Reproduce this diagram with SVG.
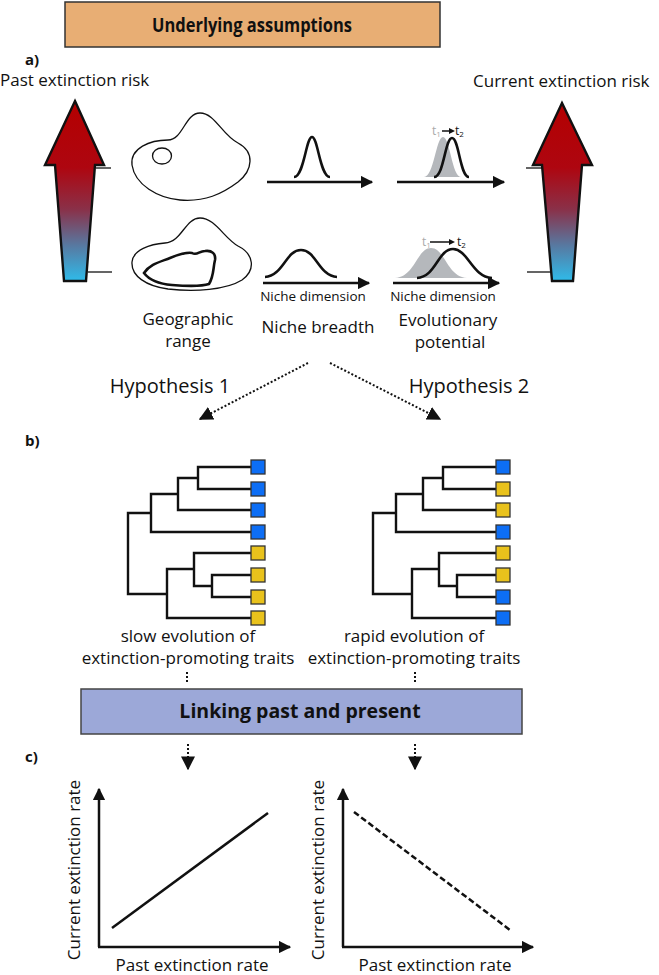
<svg xmlns="http://www.w3.org/2000/svg" width="659" height="975" viewBox="0 0 659 975">
<style>
text{font-family:"Open Sans","Noto Sans","DejaVu Sans",sans-serif;fill:#111}
.lbl{font-size:17px;text-anchor:middle}
.sm{font-size:13.5px;text-anchor:middle}
.bold{font-weight:bold}
.thin{fill:none;stroke:#111;stroke-width:1.3}
.thick{fill:none;stroke:#111;stroke-width:2.6}
.axis{fill:none;stroke:#111;stroke-width:2.5}
.br{fill:none;stroke:#111;stroke-width:2.4;stroke-linecap:square}
.dot{fill:none;stroke:#111;stroke-width:2;stroke-dasharray:2 2}
.b{fill:#0D6EF5;stroke:#333;stroke-width:1.3}
.y{fill:#E9C21C;stroke:#333;stroke-width:1.3}
.gray{fill:#B5B8BC}
</style>
<defs>
<linearGradient id="grad" gradientUnits="userSpaceOnUse" x1="0" y1="101" x2="0" y2="281">
<stop offset="0" stop-color="#B40000"/>
<stop offset="0.37" stop-color="#AE0610"/>
<stop offset="0.6" stop-color="#8A3048"/>
<stop offset="0.8" stop-color="#5878A0"/>
<stop offset="1" stop-color="#2FBBEA"/>
</linearGradient>
<marker id="ah" viewBox="0 0 10 10" refX="9" refY="5" markerWidth="5" markerHeight="5" orient="auto" markerUnits="strokeWidth">
<path d="M0,0 L10,5 L0,10 Z" fill="#111"/>
</marker>
<marker id="dh" viewBox="0 0 10 10" refX="9" refY="5" markerWidth="7" markerHeight="7" orient="auto" markerUnits="strokeWidth">
<path d="M0,0 L10,5 L0,10 Z" fill="#111"/>
</marker>
</defs>

<g id="banner-top">
<rect x="65" y="2" width="375" height="45" fill="#E8AE74" stroke="#333" stroke-width="1.5"/>
<text x="252" y="32" class="bold" font-size="19.5" text-anchor="middle" textLength="200" lengthAdjust="spacingAndGlyphs">Underlying assumptions</text>
</g>

<g id="label-a"><text x="25" y="65" class="bold" font-size="15">a)</text></g>
<g id="label-b"><text x="25" y="446" class="bold" font-size="15">b)</text></g>
<g id="label-c"><text x="25" y="762" class="bold" font-size="15">c)</text></g>

<g id="past-risk">
<text x="0" y="86" font-size="17">Past extinction risk</text>
<path d="M75,101 L104,165 L95,165 L86,281 L64,281 L55,165 L45,165 Z" fill="url(#grad)" stroke="#111" stroke-width="2.4" stroke-linejoin="miter"/>
<line x1="96" y1="168" x2="111" y2="168" stroke="#111" stroke-width="1.3"/>
<line x1="88" y1="272" x2="112" y2="272" stroke="#111" stroke-width="1.3"/>
</g>

<g id="current-risk">
<text x="473" y="87" font-size="17">Current extinction risk</text>
<path d="M562,103 L592,165 L582,165 L573,281 L552,281 L542,165 L533,165 Z" fill="url(#grad)" stroke="#111" stroke-width="2.4"/>
<line x1="526" y1="168" x2="542" y2="168" stroke="#111" stroke-width="1.3"/>
<line x1="527" y1="272" x2="552" y2="272" stroke="#111" stroke-width="1.3"/>
</g>

<g id="geographic-range">
<path class="thin" d="M200,113 C215,113 222,135 238,143 C255,152 253,170 238,182 C222,194 205,202 180,200 C158,198 135,185 132,165 C130,148 150,140 168,140 C183,140 185,113 200,113 Z"/>
<ellipse cx="162" cy="156" rx="9.5" ry="8" class="thin"/>
<path class="thin" d="M200,218 C215,218 224,238 238,246 C254,254 256,270 242,280 C226,290 195,292 168,289 C146,286 131,276 132,262 C133,250 150,244 165,243 C182,242 185,218 200,218 Z"/>
<path class="thick" d="M144,273 C150,264 160,262 170,258 C180,254 186,252 192,253 C197,256 199,251 205,251 C212,250 216,254 215,260 C213,268 214,276 209,284 C200,287 185,286 172,285 C160,284 150,281 144,273 Z"/>
<text x="188" y="325" class="lbl">Geographic</text>
<text x="188" y="347" class="lbl">range</text>
</g>

<g id="niche-breadth">
<path class="thick" d="M294,177 C304,177 306,137 312,137 C318,137 320,177 330,177"/>
<line x1="267" y1="182" x2="372" y2="182" class="axis" marker-end="url(#ah)"/>
<path class="thick" d="M265,277 C283,276 286,250 301,250 C316,250 319,276 337,277"/>
<line x1="263" y1="283" x2="369" y2="283" class="axis" marker-end="url(#ah)"/>
<text x="313" y="301" class="sm">Niche dimension</text>
<text x="318" y="333" class="lbl">Niche breadth</text>
</g>

<g id="evolutionary-potential">
<path class="gray" d="M424,177 C434,177 436,137 443,137 C450,137 452,177 461,177 Z"/>
<path class="thick" d="M434,177 C444,177 445,138 452,138 C459,138 460,177 469,177"/>
<line x1="397" y1="182" x2="504" y2="182" class="axis" marker-end="url(#ah)"/>
<text x="432" y="135" font-size="12" style="fill:#AAAAAA">t<tspan font-size="8" dy="2">1</tspan></text>
<line x1="442" y1="131" x2="451" y2="131" stroke="#111" stroke-width="1.5"/>
<path d="M449,128 L455,131 L449,134 Z" fill="#111"/>
<text x="455" y="135" font-size="12">t<tspan font-size="8" dy="2">2</tspan></text>

<path class="gray" d="M395,278 C415,277 417,248 431,248 C445,248 447,277 467,278 Z"/>
<path class="thick" d="M417,278 C436,277 438,249 453,249 C468,249 472,277 492,278"/>
<line x1="393" y1="283" x2="499" y2="283" class="axis" marker-end="url(#ah)"/>
<text x="422" y="246" font-size="12" style="fill:#AAAAAA">t<tspan font-size="8" dy="2">1</tspan></text>
<line x1="430" y1="242" x2="451" y2="242" stroke="#111" stroke-width="1.5"/>
<path d="M449,239 L455,242 L449,245 Z" fill="#111"/>
<text x="457" y="246" font-size="12">t<tspan font-size="8" dy="2">2</tspan></text>
<text x="443" y="301" class="sm">Niche dimension</text>
<text x="448" y="326" class="lbl" font-size="16.5">Evolutionary</text>
<text x="450" y="348" class="lbl" font-size="16.5">potential</text>
</g>

<g id="hypothesis-1"><text x="170" y="393" font-size="20" text-anchor="middle">Hypothesis 1</text></g>
<g id="hypothesis-2"><text x="469" y="393" font-size="20" text-anchor="middle">Hypothesis 2</text></g>

<g id="tree-1">
<path class="br" d="M198,467 V489 M198,467 H251 M198,489 H251 M178,478 H198 M178,478 V510 H251 M151,494 H178 M151,494 V532 H251 M128,513 H151 M212,575 V597 M212,575 H251 M212,597 H251 M194,586 H212 M194,553 V586 M194,553 H251 M167,569 H194 M167,569 V618 H251 M128,594 H167 M128,513 V594"/>
<rect x="251" y="460" width="14" height="14" class="b"/>
<rect x="251" y="482" width="14" height="14" class="b"/>
<rect x="251" y="503" width="14" height="14" class="b"/>
<rect x="251" y="525" width="14" height="14" class="b"/>
<rect x="251" y="546" width="14" height="14" class="y"/>
<rect x="251" y="568" width="14" height="14" class="y"/>
<rect x="251" y="590" width="14" height="14" class="y"/>
<rect x="251" y="611" width="14" height="14" class="y"/>
<text x="188" y="642" class="lbl" font-size="16">slow evolution of</text>
<text x="188" y="664" class="lbl" font-size="16.5">extinction-promoting traits</text>
</g>

<g id="tree-2">
<path class="br" d="M443,467 V489 M443,467 H496 M443,489 H496 M423,478 H443 M423,478 V510 H496 M396,494 H423 M396,494 V532 H496 M373,513 H396 M457,575 V597 M457,575 H496 M457,597 H496 M439,586 H457 M439,553 V586 M439,553 H496 M412,569 H439 M412,569 V618 H496 M373,594 H412 M373,513 V594"/>
<rect x="496" y="460" width="14" height="14" class="b"/>
<rect x="496" y="482" width="14" height="14" class="y"/>
<rect x="496" y="503" width="14" height="14" class="y"/>
<rect x="496" y="525" width="14" height="14" class="b"/>
<rect x="496" y="546" width="14" height="14" class="y"/>
<rect x="496" y="568" width="14" height="14" class="y"/>
<rect x="496" y="590" width="14" height="14" class="b"/>
<rect x="496" y="611" width="14" height="14" class="b"/>
<text x="414" y="642" class="lbl" font-size="16">rapid evolution of</text>
<text x="414" y="664" class="lbl" font-size="16.5">extinction-promoting traits</text>
</g>

<g id="banner-linking">
<rect x="81" y="689" width="441" height="45" fill="#9CA8D8" stroke="#444" stroke-width="1.5"/>
<text x="300" y="718" class="bold" font-size="19.5" text-anchor="middle">Linking past and present</text>
</g>

<g id="plot-1">
<line x1="99" y1="947" x2="99" y2="789" class="axis" marker-end="url(#ah)"/>
<line x1="98" y1="947" x2="290" y2="947" class="axis" marker-end="url(#ah)"/>
<line x1="112" y1="928" x2="268" y2="813" stroke="#111" stroke-width="2.5"/>
<text transform="translate(80,870) rotate(-90)" class="lbl">Current extinction rate</text>
<text x="192" y="971" class="lbl">Past extinction rate</text>
</g>

<g id="plot-2">
<line x1="343" y1="947" x2="343" y2="789" class="axis" marker-end="url(#ah)"/>
<line x1="342" y1="947" x2="533" y2="947" class="axis" marker-end="url(#ah)"/>
<line x1="354" y1="812" x2="510" y2="930" stroke="#111" stroke-width="2.5" stroke-dasharray="6 3"/>
<text transform="translate(324,870) rotate(-90)" class="lbl">Current extinction rate</text>
<text x="435" y="971" class="lbl">Past extinction rate</text>
</g>

<g id="connectors">
<line x1="308" y1="363" x2="200" y2="419" class="dot" marker-end="url(#dh)"/>
<line x1="330" y1="363" x2="440" y2="419" class="dot" marker-end="url(#dh)"/>
<line x1="187" y1="672" x2="187" y2="684" class="dot"/>
<line x1="415" y1="672" x2="415" y2="684" class="dot"/>
<line x1="188" y1="744" x2="188" y2="769" class="dot" marker-end="url(#dh)"/>
<line x1="415" y1="744" x2="415" y2="769" class="dot" marker-end="url(#dh)"/>
</g>
</svg>
